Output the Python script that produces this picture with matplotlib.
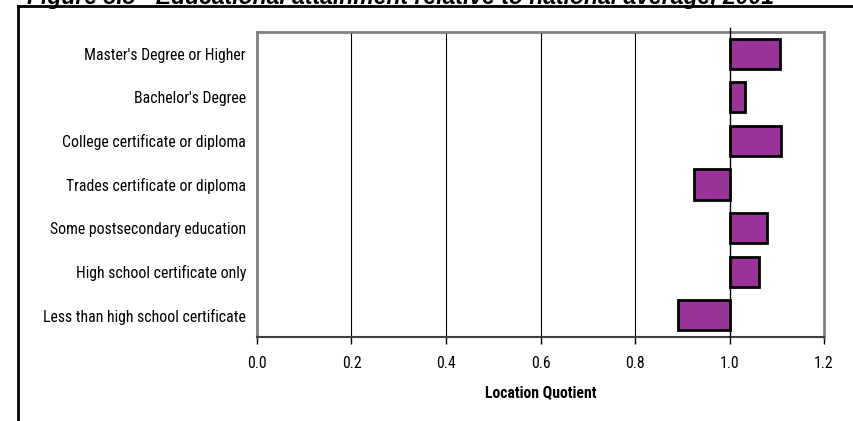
import matplotlib.pyplot as plt
import matplotlib.font_manager as fm

categories = ["Master's Degree or Higher", "Bachelor's Degree", "College certificate or diploma",
              "Trades certificate or diploma", "Some postsecondary education",
              "High school certificate only", "Less than high school certificate"]
lq = [1.107, 1.032, 1.11, 0.925, 1.079, 1.062, 0.891]
xticks = [0.0, 0.2, 0.4, 0.6, 0.8, 1.0, 1.2]
title = "Figure 3.5 - Educational attainment relative to national average, 2001"

# look for a narrow font like the Arial Narrow in the original
names = {f.name for f in fm.fontManager.ttflist}
narrow = None
for cand in ['Liberation Sans Narrow', 'Roboto Condensed', 'Open Sans Condensed', 'Arial Narrow']:
    if cand in names:
        narrow = cand
        break
stretch = 'normal'
if narrow is None:
    cond = [f for f in fm.fontManager.ttflist if f.name == 'DejaVu Sans' and 'ondensed' in str(f.stretch)]
    if cond:
        narrow = 'DejaVu Sans'
        stretch = 'condensed'
    else:
        narrow = 'Liberation Sans'
plt.rcParams['font.family'] = [narrow, 'DejaVu Sans']
plt.rcParams['font.stretch'] = stretch
fs = 10.2 if narrow == 'Liberation Sans' else 11.3

fig = plt.figure(figsize=(8.54, 4.21), dpi=100)
ax = fig.add_axes([257/854, 1-337/421, (824-257)/854, (337-32)/421])

ypos = list(range(len(categories)))[::-1]
widths = [v - 1.0 for v in lq]
ax.barh(ypos, widths, left=1.0, height=0.69, color='#993399', edgecolor='black', linewidth=2, zorder=3)

ax.set_xlim(0, 1.2)
ax.set_ylim(-0.5, len(categories) - 0.5)
ax.set_xticks(xticks)
ax.set_xticklabels([f"{t:.1f}" for t in xticks], fontsize=fs)
ax.set_yticks(ypos)
ax.set_yticklabels(categories, fontsize=fs)
ax.tick_params(axis='y', length=0, pad=8)
ax.tick_params(axis='x', direction='out', length=5, width=1, pad=9)

for g in xticks[1:-2]:
    ax.axvline(g, color='black', linewidth=0.8, zorder=1)
ax.plot([1.0, 1.0], [-0.5, len(categories) - 0.5 + 0.1], color='black', linewidth=1, zorder=4, clip_on=False)

for s in ['top', 'left', 'right']:
    ax.spines[s].set_color('#808080')
    ax.spines[s].set_linewidth(2)
ax.spines['bottom'].set_color('#404040')
ax.spines['bottom'].set_linewidth(1.5)

ax.set_xlabel('Location Quotient', fontsize=fs, fontweight='bold', labelpad=10)

# outer frame lines and the title, cut off at the top like the original
fig.add_artist(plt.Line2D([18/854, 18/854], [0, 1-6/421], color='black', linewidth=2, transform=fig.transFigure))
fig.add_artist(plt.Line2D([18/854, 1], [1-6/421, 1-6/421], color='black', linewidth=2, transform=fig.transFigure))
fig.text(27/854, 1-4/421, title, fontsize=16.6, fontweight='bold', fontstyle='italic',
         family=['Liberation Sans', 'DejaVu Sans'], stretch='normal', va='baseline', ha='left')

fig.savefig('out.png', dpi=100)
